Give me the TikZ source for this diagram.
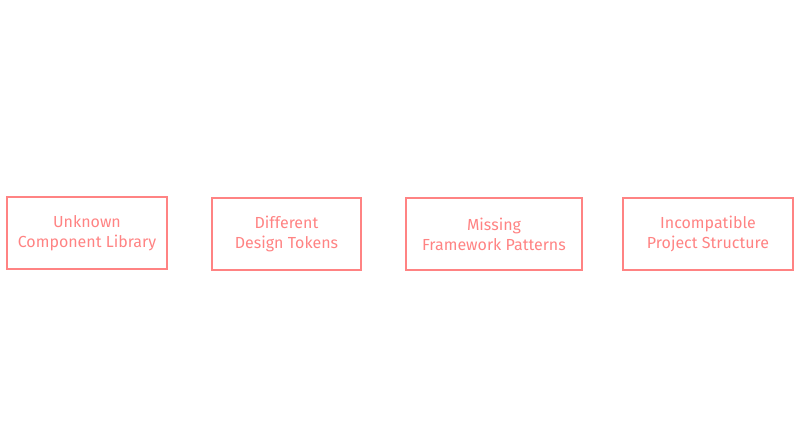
\documentclass[tikz,border=0pt]{standalone}
\usepackage{fontspec}
\setmainfont{Fira Sans}
\usepackage{xcolor}
\definecolor{Salmon}{HTML}{FF8383}
\usetikzlibrary{positioning}

\begin{document}
\begin{tikzpicture}[x=0.75pt, y=-0.75pt,
        issue/.style={draw=Salmon, line width=1.5pt, text=Salmon, align=center,
            minimum height=54pt, inner sep=0pt, font=\fontsize{12}{15}\selectfont}]
        \useasboundingbox (0,0) rectangle (800,439);

        \node[issue, minimum width=120pt] (library) at (87,233) {Unknown\\Component Library};
        \node[issue, minimum width=112pt] (tokens) at (286.5,234) {Different\\Design Tokens};
        \node[issue, minimum width=132pt] (patterns) at (494,234) {Missing\\Framework Patterns};
        \node[issue, minimum width=127.5pt] (structure) at (708,234) {Incompatible\\Project Structure};

    \end{tikzpicture}
\end{document}
